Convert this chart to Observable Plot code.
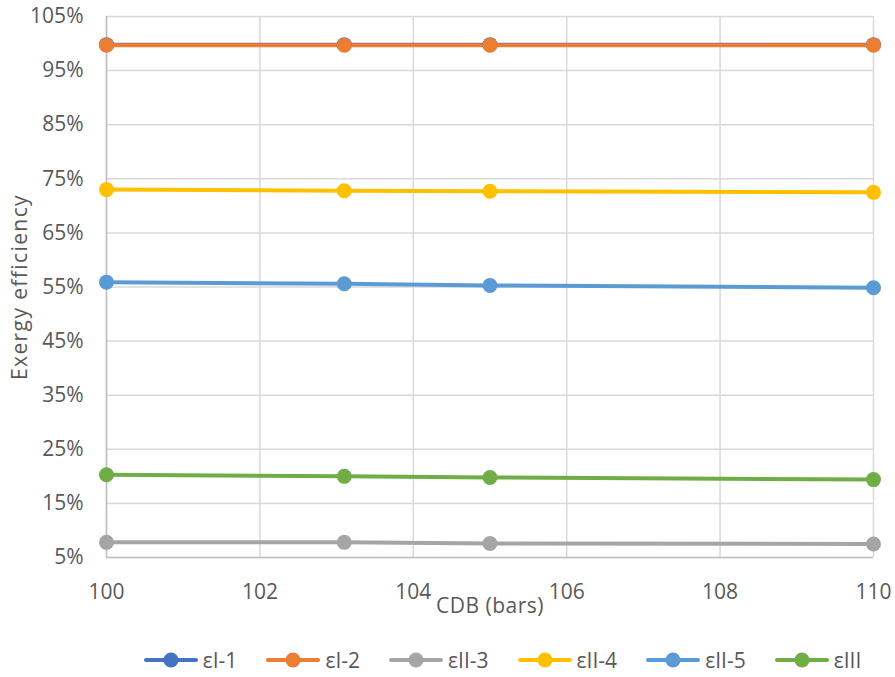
<!DOCTYPE html>
<html>
<head>
<meta charset="utf-8">
<script src="https://cdn.jsdelivr.net/npm/d3@7"></script>
<script src="https://cdn.jsdelivr.net/npm/@observablehq/plot@0.6"></script>
<style>
  html, body { margin: 0; padding: 0; background: #fff; }
  #chart { width: 895px; font-family: "Open Sans", sans-serif; }
  #legend { display: flex; justify-content: center; align-items: center; height: 80px; gap: 29px; padding-left: 110px; color: #595959; font-size: 21px; }
  .item { display: flex; align-items: center; gap: 5px; }
</style>
</head>
<body>
<div id="chart"></div>
<script>
// CDB pressure (bars)
const cdb = [100, 103.1, 105, 110];

// Exergy efficiency (%) per stage
const epsI1   = [99.8, 99.8, 99.8, 99.8];
const epsI2   = [99.7, 99.7, 99.7, 99.7];
const epsII3  = [7.8, 7.8, 7.6, 7.5];
const epsII4  = [73.0, 72.8, 72.7, 72.5];
const epsII5  = [55.9, 55.6, 55.3, 54.85];
const epsIII  = [20.3, 20.0, 19.8, 19.4];

const seriesNames = ["εI-1", "εI-2", "εII-3", "εII-4", "εII-5", "εIII"];
const seriesValues = [epsI1, epsI2, epsII3, epsII4, epsII5, epsIII];
const seriesColors = ["#4472C4", "#ED7D31", "#A5A5A5", "#FFC000", "#5B9BD5", "#70AD47"];

const yTicks = [5, 15, 25, 35, 45, 55, 65, 75, 85, 95, 105];
const xTicks = [100, 102, 104, 106, 108, 110];

const rows = seriesNames.flatMap((name, i) =>
  cdb.map((x, j) => ({series: name, x, y: seriesValues[i][j]}))
);

const font = "\"Open Sans\", sans-serif";
const textColor = "#595959";

const plot = Plot.plot({
  width: 895,
  height: 620,
  marginLeft: 106,
  marginRight: 22,
  marginTop: 16,
  marginBottom: 63,
  style: {fontFamily: font, fontSize: "21px", color: textColor, background: "#fff"},
  x: {domain: [100, 110], ticks: xTicks},
  y: {domain: [5, 105], ticks: yTicks},
  color: {domain: seriesNames, range: seriesColors},
  marks: [
    Plot.gridX(xTicks, {stroke: "#d9d9d9", strokeOpacity: 1, strokeWidth: 1.5}),
    Plot.gridY(yTicks, {stroke: "#d9d9d9", strokeOpacity: 1, strokeWidth: 1.5}),
    Plot.ruleX([100], {stroke: "#bfbfbf", strokeWidth: 1.5}),
    Plot.ruleY([5], {stroke: "#bfbfbf", strokeWidth: 1.5}),
    Plot.axisX({ticks: xTicks, tickSize: 0, tickPadding: 27, label: null, fill: textColor, fontSize: 21}),
    Plot.axisY({ticks: yTicks, tickSize: 0, tickPadding: 23, label: null, tickFormat: d => d + "%", fill: textColor, fontSize: 21}),
    Plot.line(rows, {x: "x", y: "y", z: "series", stroke: "series", strokeWidth: 4}),
    Plot.dot(rows, {x: "x", y: "y", fill: "series", r: 7.5}),
    Plot.text(["CDB (bars)"], {frameAnchor: "bottom", dy: 49, lineAnchor: "middle", fill: textColor, fontSize: 21, className: "xtitle"}),
    Plot.text(["Exergy efficiency"], {frameAnchor: "left", dx: -86, rotate: -90, textAnchor: "middle", lineAnchor: "middle", fill: textColor, fontSize: 21, className: "ytitle"})
  ]
});

// Wider tracking on the axis titles
d3.select(plot).selectAll(".ytitle text").attr("letter-spacing", "1.4px");
d3.select(plot).selectAll(".xtitle text").attr("letter-spacing", "0.5px");

const chart = document.getElementById("chart");
chart.appendChild(plot);

// Legend: one swatch (line + dot) per series
const legend = document.createElement("div");
legend.id = "legend";
seriesNames.forEach((name, i) => {
  const item = document.createElement("div");
  item.className = "item";
  item.innerHTML =
    `<svg width="54" height="18"><line x1="2" y1="9" x2="52" y2="9" stroke="${seriesColors[i]}" stroke-width="4" stroke-linecap="round"/>` +
    `<circle cx="27" cy="9" r="7.5" fill="${seriesColors[i]}"/></svg><span>${name}</span>`;
  legend.appendChild(item);
});
chart.appendChild(legend);
</script>
</body>
</html>
